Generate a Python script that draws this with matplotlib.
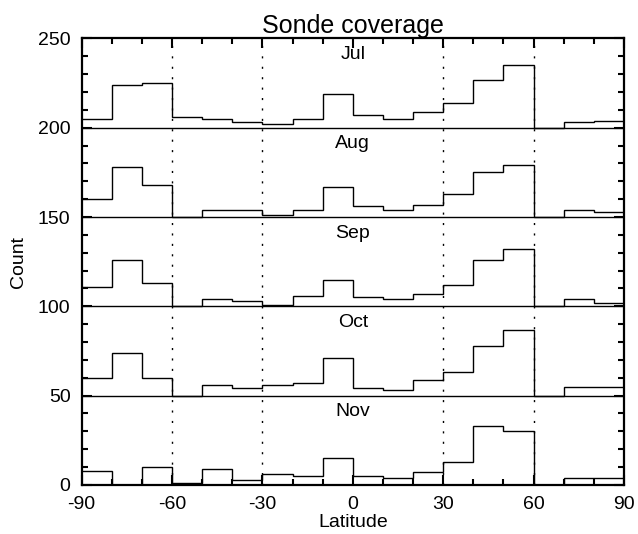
import numpy as np
import matplotlib.pyplot as plt
from matplotlib.ticker import MultipleLocator

plt.rcParams['font.family'] = ['Liberation Sans', 'DejaVu Sans']
plt.rcParams['axes.unicode_minus'] = False

# latitude bins, 10 degrees wide
edges = np.arange(-90, 91, 10)

months = ['Jul', 'Aug', 'Sep', 'Oct', 'Nov']
offsets = [200, 150, 100, 50, 0]

jul = [5, 24, 25, 6, 5, 3, 2, 5, 19, 7, 5, 9, 14, 27, 35, 0, 3, 4]
aug = [10, 28, 18, 0, 4, 4, 1, 4, 17, 6, 4, 7, 13, 25, 29, 0, 4, 3]
sep = [11, 26, 13, 0, 4, 3, 1, 6, 15, 5, 4, 7, 12, 26, 32, 0, 4, 2]
oct_ = [10, 24, 10, 0, 6, 4, 6, 7, 21, 4, 3, 9, 13, 28, 37, 0, 5, 5]
nov = [8, 0, 10, 1, 9, 3, 6, 5, 15, 5, 4, 7, 13, 33, 30, 0, 4, 4]
counts = [jul, aug, sep, oct_, nov]

fig = plt.figure(figsize=(6.38, 5.34), dpi=100)
ax = fig.add_axes([0.128, 0.092, 0.850, 0.836])

for name, off, vals in zip(months, offsets, counts):
    ax.stairs(np.array(vals) + off, edges, baseline=None, color='black', lw=1.0)
    if off > 0:
        ax.axhline(off, color='black', lw=1.0)
    ax.text(0, off + 41, name, ha='center', va='center', fontsize=14)

for x in [-60, -30, 30, 60]:
    ax.axvline(x, color='black', lw=1.0, linestyle=(0, (1.5, 6)))

ax.set_xlim(-90, 90)
ax.set_ylim(0, 250)
ax.xaxis.set_major_locator(MultipleLocator(30))
ax.xaxis.set_minor_locator(MultipleLocator(10))
ax.yaxis.set_major_locator(MultipleLocator(50))
ax.yaxis.set_minor_locator(MultipleLocator(10))
ax.tick_params(which='both', direction='in', top=True, right=True, width=1.5,
               labelsize=14)
ax.tick_params(which='major', length=7, pad=8)
ax.tick_params(which='minor', length=4)
for s in ax.spines.values():
    s.set_linewidth(1.6)

ax.set_title('Sonde coverage', fontsize=18, pad=2)
ax.set_xlabel('Latitude', fontsize=14, labelpad=1)
ax.set_ylabel('Count', fontsize=14, labelpad=8)

fig.savefig('out.png', dpi=100)
